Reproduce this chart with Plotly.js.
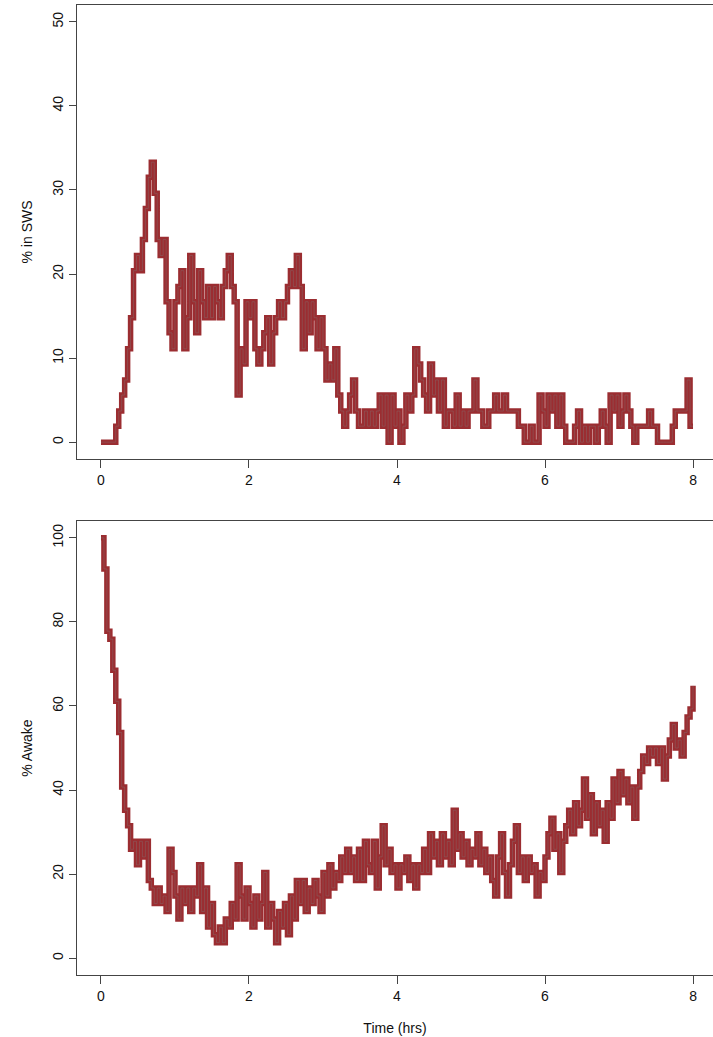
<!DOCTYPE html>
<html><head><meta charset="utf-8">
<script src="https://cdn.plot.ly/plotly-3.0.1.min.js"></script>
<style>html,body{margin:0;padding:0;background:#fff}#chart{width:713px;height:1037px}</style>
</head><body><div id="chart"></div>
<script>
// Sampling step of the curves (hours)
const epochHrs = 0.04;

// % of subjects in slow-wave sleep, one value per epoch (0 to 8 h)
const swsPct = [
  0,0,0,0,0,1.9,3.7,5.6,7.4,11.1,14.8,20.4,22.2,20.4,24.1,27.8,31.5,33.3,29.6,24.1,22.2,24.1,16.7,13,11.1,
  16.7,18.5,20.4,11.1,14.8,22.2,16.7,13,20.4,16.7,14.8,18.5,14.8,18.5,16.7,14.8,18.5,20.4,22.2,18.5,16.7,5.6,11.1,9.3,16.7,
  14.8,16.7,11.1,9.3,11.1,13,14.8,9.3,13,14.8,16.7,14.8,16.7,18.5,20.4,18.5,22.2,18.5,11.1,16.7,13,16.7,14.8,11.1,14.8,
  11.1,7.4,9.3,7.4,11.1,5.6,3.7,1.9,3.7,5.6,7.4,3.7,1.9,1.9,3.7,1.9,3.7,1.9,3.7,5.6,1.9,5.6,0,5.6,1.9,
  3.7,0,1.9,5.6,3.7,5.6,11.1,9.3,7.4,5.6,3.7,9.3,5.6,7.4,3.7,7.4,1.9,3.7,3.7,1.9,5.6,1.9,3.7,1.9,3.7,
  3.7,7.4,3.7,3.7,1.9,1.9,3.7,3.7,5.6,3.7,3.7,5.6,3.7,3.7,3.7,3.7,1.9,1.9,0,0,1.9,0,0,5.6,3.7,
  1.9,5.6,3.7,5.6,1.9,5.6,1.9,0,0,0,1.9,3.7,0,1.9,0,1.9,1.9,0,1.9,3.7,1.9,0,5.6,3.7,5.6,
  1.9,3.7,5.6,3.7,1.9,0,1.9,1.9,1.9,1.9,3.7,1.9,1.9,0,0,0,0,0,1.9,3.7,3.7,3.7,3.7,7.4,1.9,
  1.9
];

// % of subjects awake, one value per epoch (0 to 8 h)
const awakePct = [
  100,92.6,77.8,75.9,68.5,61.1,53.7,40.7,35.2,31.5,25.9,27.8,22.2,27.8,24.1,27.8,18.5,16.7,13,16.7,13,14.8,11.1,25.9,20.4,
  14.8,9.3,16.7,13,16.7,11.1,16.7,14.8,22.2,11.1,16.7,7.4,13,5.6,3.7,7.4,3.7,9.3,7.4,13,9.3,22.2,14.8,9.3,16.7,
  13,7.4,14.8,9.3,13,20.4,7.4,13,9.3,3.7,11.1,7.4,13,5.6,14.8,9.3,18.5,13,18.5,11.1,16.7,13,18.5,14.8,11.1,
  20.4,14.8,22.2,16.7,20.4,18.5,24.1,20.4,25.9,20.4,24.1,18.5,25.9,18.5,27.8,22.2,20.4,27.8,16.7,24.1,31.5,22.2,25.9,20.4,22.2,
  16.7,22.2,20.4,24.1,18.5,22.2,16.7,22.2,20.4,25.9,20.4,29.6,24.1,27.8,22.2,29.6,24.1,27.8,22.2,35.2,25.9,29.6,24.1,27.8,22.2,
  25.9,24.1,29.6,22.2,25.9,20.4,24.1,18.5,14.8,24.1,29.6,20.4,14.8,22.2,27.8,31.5,20.4,24.1,18.5,24.1,20.4,22.2,14.8,20.4,18.5,
  24.1,29.6,33.3,25.9,29.6,20.4,27.8,31.5,35.2,29.6,37,31.5,35.2,42.6,33.3,38.9,29.6,37,31.5,35.2,27.8,37,33.3,42.6,37,
  44.4,38.9,42.6,37,40.7,33.3,40.7,44.4,48.1,46.3,50,48.1,50,46.3,50,42.6,48.1,51.9,55.6,50,51.9,48.1,53.7,57.4,59.3,
  64.8
];

const xTicks = [0, 2, 4, 6, 8];
const swsTicks = [0, 10, 20, 30, 40, 50];
const awakeTicks = [0, 20, 40, 60, 80, 100];
const swsTitle = '% in SWS';
const awakeTitle = '% Awake';
const timeTitle = 'Time (hrs)';

const times = swsPct.map((_, i) => +(i * epochHrs).toFixed(2));
const timesA = awakePct.map((_, i) => +(i * epochHrs).toFixed(2));

const red = '#9b2d31';
const grey = 'rgba(125,125,125,0.35)';
function pair(x, y, xa, ya) {
  return [
    {x: x, y: y, xaxis: xa, yaxis: ya, type: 'scatter', mode: 'lines',
     line: {color: red, width: 5.5, shape: 'hv'}, hoverinfo: 'skip', showlegend: false},
    {x: x, y: y, xaxis: xa, yaxis: ya, type: 'scatter', mode: 'lines',
     line: {color: grey, width: 1, shape: 'hv'}, hoverinfo: 'skip', showlegend: false}
  ];
}
const data = [].concat(pair(times, swsPct, 'x', 'y'), pair(timesA, awakePct, 'x2', 'y2'));

const font = {family: 'Liberation Sans, Arial, sans-serif', size: 14, color: '#111'};
const xBase = {range: [-0.324, 8.27], tickvals: xTicks, ticks: 'outside', ticklen: 8, tickwidth: 1,
  tickcolor: '#444', showline: true, linecolor: '#444', linewidth: 1, mirror: true,
  showgrid: false, zeroline: false, automargin: false, tickfont: font};
const yBase = {ticks: 'outside', ticklen: 7, tickwidth: 1, tickcolor: '#444', showline: true,
  linecolor: '#444', linewidth: 1, showgrid: false, zeroline: false, automargin: false,
  tickangle: -90, tickfont: font};

const layout = {
  width: 713, height: 1037,
  margin: {l: 77, r: 0, t: 5, b: 62},
  paper_bgcolor: '#fff', plot_bgcolor: '#fff',
  font: font,
  showlegend: false,
  xaxis: Object.assign({}, xBase, {anchor: 'y', domain: [0, 1]}),
  yaxis: Object.assign({}, yBase, {anchor: 'x', domain: [0.532, 1], range: [-2, 52], tickvals: swsTicks,
    title: {text: swsTitle, font: font, standoff: 14}}),
  xaxis2: Object.assign({}, xBase, {anchor: 'y2', domain: [0, 1],
    title: {text: timeTitle, font: font, standoff: 20}}),
  yaxis2: Object.assign({}, yBase, {anchor: 'x2', domain: [0, 0.468], range: [-4, 104], tickvals: awakeTicks,
    title: {text: awakeTitle, font: font, standoff: 14}})
};

Plotly.newPlot('chart', data, layout, {staticPlot: true, displayModeBar: false});
</script>
</body></html>
